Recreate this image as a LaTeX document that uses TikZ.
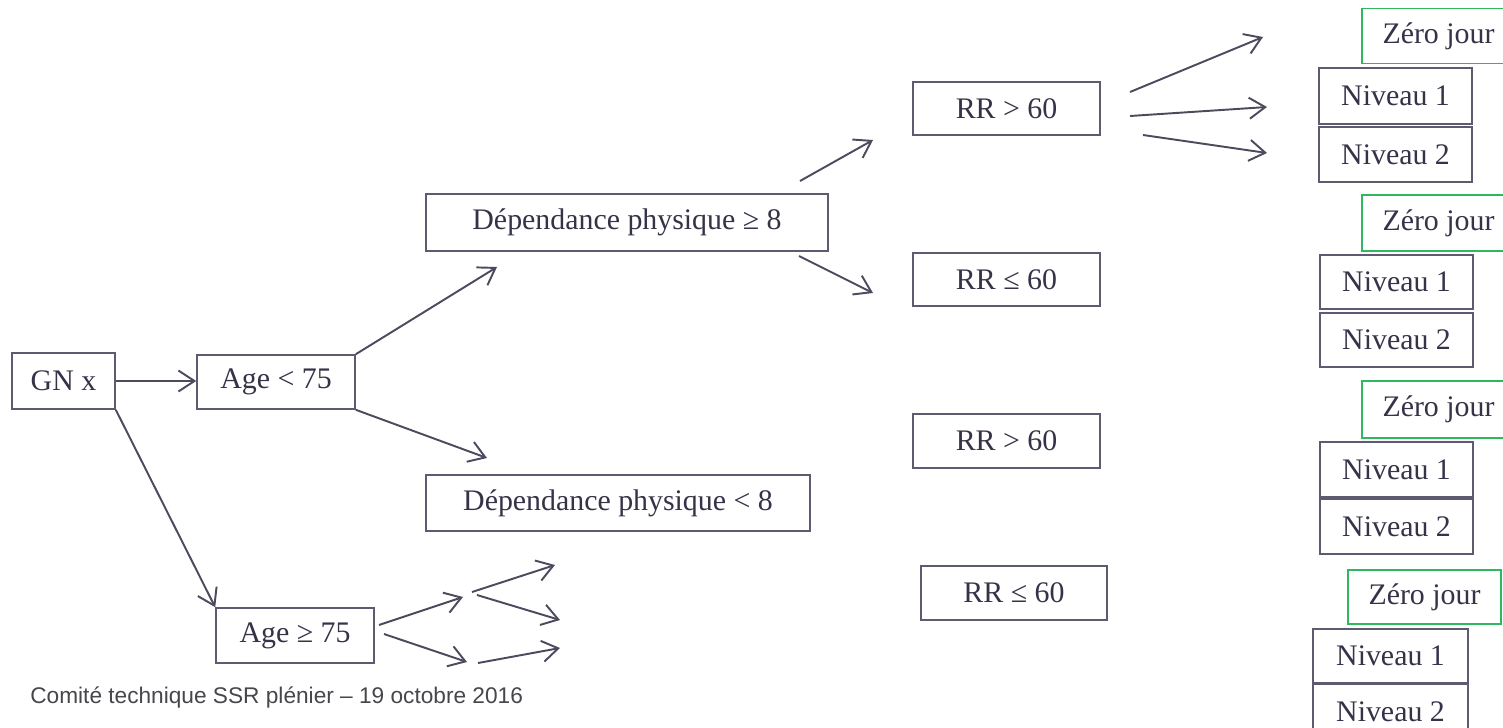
\documentclass[tikz,border=0pt]{standalone}
\usepackage{fontspec}
\setmainfont{Liberation Serif}
\newfontfamily\footfont{Liberation Sans}
\usetikzlibrary{arrows.meta}
\definecolor{boxc}{RGB}{95,90,112}
\definecolor{textc}{RGB}{55,50,72}
\definecolor{arrc}{RGB}{78,74,94}
\definecolor{greenc}{RGB}{46,184,96}
\definecolor{footc}{RGB}{70,70,75}
\tikzset{
  box/.style 2 args={draw=boxc, line width=0.9pt, text=textc, inner sep=0pt,
    minimum width=#1*0.02cm, minimum height=#2*0.02cm,
    font=\fontsize{17}{20}\selectfont},
  zbox/.style={box={153}{55}, draw=greenc},
  nbox/.style={box={153}{55}},
  arr/.style={draw=arrc, line width=1.1pt,
    -{Straight Barb[length=0.32cm, width=0.42cm, line width=1.1pt]}},
}
\begin{document}
\begin{tikzpicture}[x=0.02cm, y=-0.02cm]
\useasboundingbox (0,0) rectangle (1503,727);
\clip (0,0) rectangle (1503,727);
\fill[white] (0,0) rectangle (1503,727);

% main nodes
\node[box={103}{56}] (gn) at (63.5,381) {GN x};
\node[box={158}{54}] (a1) at (276,382) {Age < 75};
\node[box={158}{55}] (a2) at (295,635.5) {Age ≥ 75};
\node[box={402}{57}] (d1) at (627,222.5) {Dépendance physique ≥ 8};
\node[box={384}{56}] (d2) at (618,503) {Dépendance physique < 8};
\node[box={187}{53}] (r1) at (1006.5,108.5) {RR > 60};
\node[box={187}{53}] (r2) at (1006.5,279.5) {RR ≤ 60};
\node[box={187}{54}] (r3) at (1006.5,441) {RR > 60};
\node[box={186}{54}] (r4) at (1014,593) {RR ≤ 60};

% right column
\node[zbox] (z1) at (1438.5,36) {Zéro jour};
\node[nbox, minimum height=56*0.02cm] (n1a) at (1395.5,96) {Niveau 1};
\node[nbox] (n2a) at (1395.5,154.5) {Niveau 2};
\node[zbox, minimum height=56*0.02cm] (z2) at (1438.5,223) {Zéro jour};
\node[nbox, minimum height=54*0.02cm] (n1b) at (1396.5,282) {Niveau 1};
\node[nbox, minimum height=54*0.02cm] (n2b) at (1396.5,340) {Niveau 2};
\node[zbox, minimum height=57*0.02cm] (z3) at (1438.5,409.5) {Zéro jour};
\node[nbox] (n1c) at (1396.5,469.5) {Niveau 1};
\node[nbox] (n2c) at (1396.5,526.5) {Niveau 2};
\node[zbox, minimum height=54*0.02cm] (z4) at (1424.5,597) {Zéro jour};
\node[nbox, minimum width=155*0.02cm, minimum height=54*0.02cm] (n1d) at (1390.5,656) {Niveau 1};
\node[nbox, minimum width=155*0.02cm] (n2d) at (1390.5,711.5) {Niveau 2};

% footer
\node[anchor=west, inner sep=0pt, text=footc, font=\footfont\fontsize{12.9}{15}\selectfont] (foot) at (30,697) {Comité technique SSR plénier – 19 octobre 2016};

% free-end coordinates
\coordinate (e3) at (497,267);
\coordinate (e4) at (487,458);
\coordinate (s5) at (800,181);
\coordinate (e5) at (873,140);
\coordinate (s6) at (799,256);
\coordinate (e6) at (873,293);
\coordinate (s7) at (1130,92);
\coordinate (e7) at (1263,37);
\coordinate (s8) at (1130,116);
\coordinate (e8) at (1267,107);
\coordinate (s9) at (1143,135);
\coordinate (e9) at (1267,153);
\coordinate (s10) at (379,625);
\coordinate (e10) at (463,597);
\coordinate (s11) at (384,634);
\coordinate (e11) at (467,662);
\coordinate (s12) at (472,592);
\coordinate (e12) at (555,565);
\coordinate (s13) at (477,595);
\coordinate (e13) at (560,620);
\coordinate (s14) at (478,663);
\coordinate (e14) at (560,648);

% connectors
\draw[arr] (gn.east) -- (gn.east -| a1.west);
\draw[arr] (gn.south east) -- (a2.north west);
\draw[arr] (a1.north east) -- (e3);
\draw[arr] (a1.south east) -- (e4);
\draw[arr] (s5) -- (e5);
\draw[arr] (s6) -- (e6);
\draw[arr] (s7) -- (e7);
\draw[arr] (s8) -- (e8);
\draw[arr] (s9) -- (e9);
\draw[arr] (s10) -- (e10);
\draw[arr] (s11) -- (e11);
\draw[arr] (s12) -- (e12);
\draw[arr] (s13) -- (e13);
\draw[arr] (s14) -- (e14);
\end{tikzpicture}
\end{document}
